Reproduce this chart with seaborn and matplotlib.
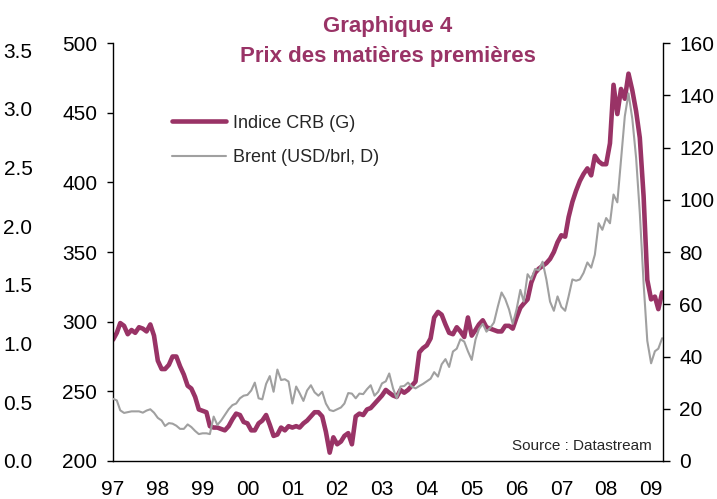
import pandas as pd
import seaborn as sns
import matplotlib.pyplot as plt
import matplotlib.dates as mdates
from matplotlib.ticker import FormatStrFormatter, MultipleLocator
from matplotlib.lines import Line2D

# Indice CRB (left axis), monthly Jan 1997 - Apr 2009
crb_1997 = [287, 292, 299, 297, 291, 294, 292, 296, 295, 293, 298, 290]
crb_1998 = [272, 266, 266, 269, 275, 275, 268, 262, 254, 252, 246, 237]
crb_1999 = [236, 235, 225, 224, 224, 223, 222, 225, 230, 234, 233, 228]
crb_2000 = [227, 222, 222, 227, 229, 233, 226, 218, 219, 224, 222, 225]
crb_2001 = [224, 225, 224, 227, 229, 232, 235, 235, 232, 221, 206, 217]
crb_2002 = [212, 214, 218, 220, 212, 232, 234, 233, 237, 238, 241, 244]
crb_2003 = [247, 251, 249, 247, 246, 251, 249, 251, 254, 257, 278, 281]
crb_2004 = [283, 288, 303, 307, 305, 298, 292, 291, 296, 293, 289, 303]
crb_2005 = [290, 294, 298, 301, 296, 295, 294, 293, 293, 297, 297, 295]
crb_2006 = [303, 310, 313, 316, 328, 335, 338, 340, 342, 345, 350, 357]
crb_2007 = [362, 361, 375, 386, 394, 401, 406, 410, 405, 419, 415, 413]
crb_2008 = [413, 428, 470, 449, 467, 460, 478, 466, 451, 432, 390, 330]
crb_2009 = [316, 318, 309, 321]

# Brent USD/brl (right axis)
brent_1997 = [23.8, 23.2, 19.4, 18.4, 18.7, 19.0, 19.0, 19.0, 18.5, 19.3, 19.8, 18.5]
brent_1998 = [16.5, 15.5, 13.4, 14.5, 14.3, 13.5, 12.3, 12.3, 14.0, 13.0, 11.5, 10.3]
brent_1999 = [10.6, 10.6, 10.3, 17.0, 13.8, 15.5, 17.6, 19.8, 21.4, 22.0, 24.0, 25.0]
brent_2000 = [25.3, 27.0, 30.0, 24.0, 23.6, 29.5, 32.5, 26.5, 35.0, 31.0, 31.3, 30.4]
brent_2001 = [22.0, 28.5, 26.0, 23.0, 27.0, 29.0, 26.3, 25.0, 26.5, 22.0, 19.5, 19.1]
brent_2002 = [19.8, 20.5, 22.0, 26.0, 25.8, 24.0, 25.8, 25.6, 27.5, 29.0, 25.0, 26.5]
brent_2003 = [29.7, 30.5, 33.5, 27.8, 24.0, 28.5, 28.7, 30.0, 28.5, 27.8, 28.7, 29.5]
brent_2004 = [30.5, 31.5, 34.0, 32.3, 37.0, 39.0, 36.0, 41.9, 43.0, 46.6, 45.7, 42.0]
brent_2005 = [38.7, 46.5, 50.5, 52.5, 49.5, 51.0, 53.0, 59.0, 64.5, 62.0, 58.0, 52.5]
brent_2006 = [58.0, 65.5, 61.0, 71.5, 69.5, 73.5, 73.0, 76.3, 69.5, 61.0, 57.5, 63.0]
brent_2007 = [59.0, 57.5, 63.0, 69.5, 69.0, 69.5, 72.0, 76.0, 74.0, 79.0, 91.0, 88.5]
brent_2008 = [93.0, 91.0, 102.0, 99.0, 115.0, 132.0, 140.7, 131.0, 116.0, 95.0, 68.0, 46.0]
brent_2009 = [37.4, 42.0, 43.0, 47.0]

crb = (crb_1997 + crb_1998 + crb_1999 + crb_2000 + crb_2001 + crb_2002 + crb_2003
       + crb_2004 + crb_2005 + crb_2006 + crb_2007 + crb_2008 + crb_2009)
brent = (brent_1997 + brent_1998 + brent_1999 + brent_2000 + brent_2001 + brent_2002
         + brent_2003 + brent_2004 + brent_2005 + brent_2006 + brent_2007 + brent_2008
         + brent_2009)

dates = pd.date_range("1997-01-01", periods=len(crb), freq="MS")
df = pd.DataFrame({"date": dates, "crb": crb, "brent": brent})

plum = "#993366"
grey = "#a0a0a0"

sns.set_theme(style="white")
plt.rcParams["font.family"] = ["Liberation Sans", "DejaVu Sans"]
plt.rcParams["axes.edgecolor"] = "black"
plt.rcParams["axes.linewidth"] = 1.0

fig = plt.figure(figsize=(7.17, 4.99), dpi=100)
ax = fig.add_axes([113 / 717, 38 / 499, 550 / 717, 418 / 499])

sns.lineplot(data=df, x="date", y="crb", ax=ax, color=plum, linewidth=3.3)
ax2 = ax.twinx()
sns.lineplot(data=df, x="date", y="brent", ax=ax2, color=grey, linewidth=1.5)

ax.set_xlim(pd.Timestamp("1997-01-01"), pd.Timestamp("2009-04-08"))
ax.set_ylim(200, 500)
ax.yaxis.set_major_locator(MultipleLocator(50))
ax2.set_ylim(0, 160)
ax2.yaxis.set_major_locator(MultipleLocator(20))

for a in (ax, ax2):
    a.set_xlabel("")
    a.set_ylabel("")
    a.spines["top"].set_visible(False)

ax.spines["right"].set_visible(False)
ax2.spines["left"].set_visible(False)
ax2.spines["bottom"].set_visible(False)

ax.xaxis.set_major_locator(mdates.YearLocator())
ax.xaxis.set_minor_locator(mdates.MonthLocator(bymonth=[4, 7, 10]))
ax.xaxis.set_major_formatter(mdates.DateFormatter("%y"))
ax.tick_params(axis="x", which="major", direction="inout", length=8.5, width=1,
               pad=9.5, labelsize=15, colors="black")
ax.tick_params(axis="x", which="minor", direction="in", length=3, width=1)
ax.tick_params(axis="y", direction="out", length=4.3, width=1, pad=7,
               labelsize=15, left=True, colors="black")
ax2.tick_params(axis="y", direction="out", length=4.8, width=1, pad=7,
                labelsize=15, right=True, colors="black")

# stray scale on the far left of the original
ax3 = ax.twinx()
ax3.set_ylim(0, 3.56)
ax3.yaxis.set_major_locator(MultipleLocator(0.5))
ax3.yaxis.set_major_formatter(FormatStrFormatter("%.1f"))
ax3.yaxis.tick_left()
ax3.tick_params(axis="y", length=0, pad=58, labelsize=15, colors="black")
for s in ax3.spines.values():
    s.set_visible(False)

handles = [Line2D([], [], color=plum, linewidth=3.3),
           Line2D([], [], color=grey, linewidth=1.5)]
ax2.legend(handles, ["Indice CRB (G)", "Brent (USD/brl, D)"], loc="upper left",
           bbox_to_anchor=(0.091, 0.85), frameon=False, fontsize=13,
           handlelength=3.0, handletextpad=0.4, labelspacing=0.95, borderpad=0)

ax.text(0.98, 0.026, "Source : Datastream", transform=ax.transAxes,
        ha="right", va="baseline", fontsize=11)

fig.text(388 / 717, 1 - 32 / 499, "Graphique 4", ha="center", va="baseline",
         fontsize=16, fontweight="bold", color=plum)
fig.text(388 / 717, 1 - 62 / 499, "Prix des matières premières", ha="center",
         va="baseline", fontsize=16, fontweight="bold", color=plum)

fig.savefig("out.png", dpi=100)
